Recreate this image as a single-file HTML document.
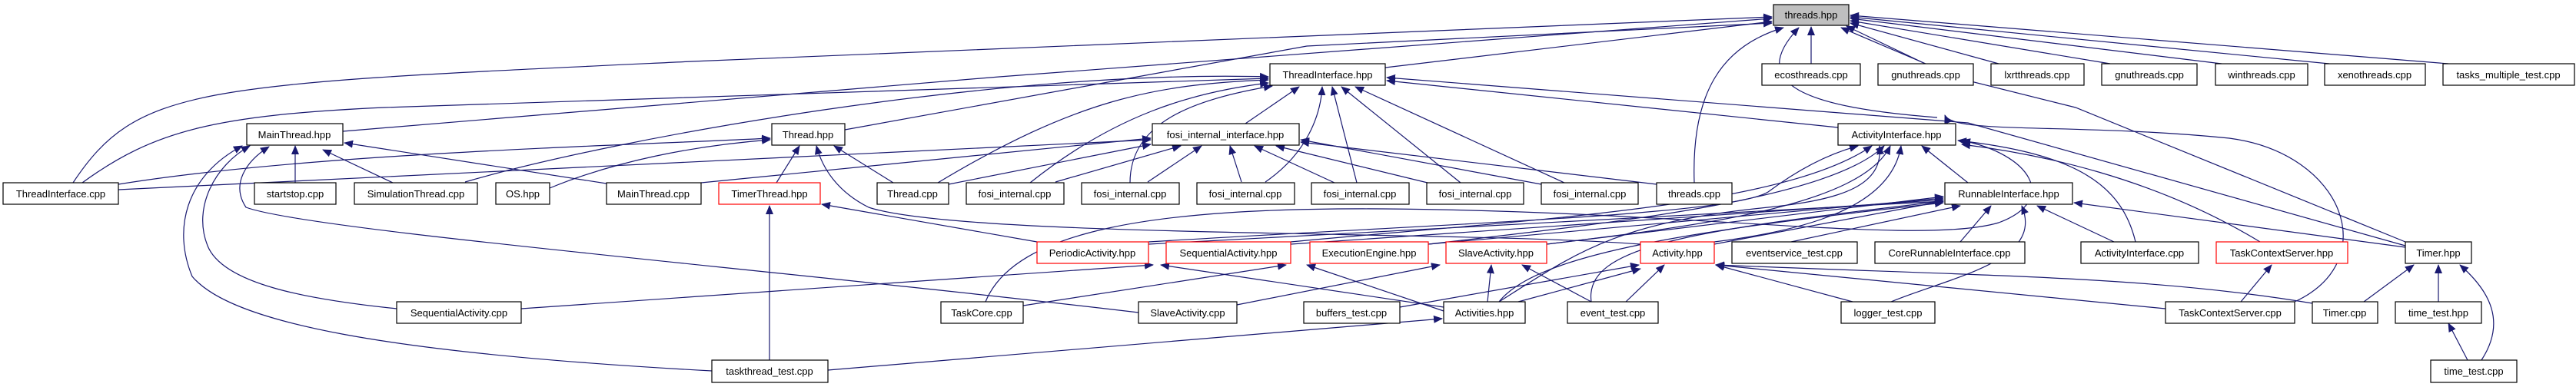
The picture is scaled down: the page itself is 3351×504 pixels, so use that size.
<!DOCTYPE html>
<html><head><meta charset="utf-8"><style>
html,body{margin:0;padding:0;background:#fff;}
svg{display:block;}
text{font-family:"Liberation Sans",sans-serif;font-size:13px;text-anchor:middle;fill:#000;}
.b{fill:#fff;stroke:#000;stroke-width:1.2;}
.r{fill:#fff;stroke:#ff0000;stroke-width:1.2;}
.g{fill:#bfbfbf;stroke:#000;stroke-width:1.2;}
.e{fill:none;stroke:#191970;stroke-width:1.2;marker-end:url(#a);}
</style></head><body>
<svg width="3351" height="504" viewBox="0 0 3351 504" xmlns="http://www.w3.org/2000/svg">
<defs><marker id="a" markerUnits="userSpaceOnUse" markerWidth="12" markerHeight="10" refX="11" refY="5" orient="auto"><path d="M0,0 L12,5 L0,10 z" fill="#191970"/></marker></defs>
<g>
<!-- to threads.hpp -->
<path class="e" d="M2356,83 L2356,35"/>
<path class="e" d="M2505,83 L2395,36"/>
<path class="e" d="M2600,83 L2407,30"/>
<path class="e" d="M2745,83 L2407,27"/>
<path class="e" d="M2890,83 L2407,24"/>
<path class="e" d="M3030,83 L2407,22"/>
<path class="e" d="M3185,83 L2407,20"/>
<path class="e" d="M1802,88 L2305,28"/>
<path class="e" d="M446,171 L1300,100 L2305,24"/>
<path class="e" d="M95,238 C180,110 260,110 900,80 L2305,22"/>
<path class="e" d="M1099,169 L1700,60 L2305,30"/>
<path class="e" d="M2204,238 C2200,120 2240,60 2320,36"/>
<path class="e" d="M2520,153 C2350,140 2270,110 2340,36"/>
<path class="e" d="M3129,315 L2700,140 L2540,100 L2402,34"/>
<path class="e" d="M2985,393 C3100,340 3050,200 2900,180 C2700,160 2540,175 2530,150"/>
<!-- to ThreadInterface.hpp -->
<path class="e" d="M107,238 C200,170 280,150 500,140 L1650,102"/>
<path class="e" d="M605,237 C800,180 1300,90 1650,100"/>
<path class="e" d="M1620,161 L1690,113"/>
<path class="e" d="M1220,238 C1400,130 1500,110 1650,104"/>
<path class="e" d="M1340,238 C1450,150 1550,120 1650,108"/>
<path class="e" d="M1470,238 C1470,160 1550,130 1655,112"/>
<path class="e" d="M1646,237 C1700,200 1718,150 1720,113"/>
<path class="e" d="M1765,238 L1733,113"/>
<path class="e" d="M1900,238 L1745,113"/>
<path class="e" d="M2035,238 L1763,113"/>
<path class="e" d="M2391,166 L1804,105"/>
<path class="e" d="M3129,320 L2560,160 L1804,101"/>
<!-- to fosi_internal_interface.hpp -->
<path class="e" d="M154,247 L1497,182"/>
<path class="e" d="M912,238 L1497,180"/>
<path class="e" d="M1234,240 L1497,188"/>
<path class="e" d="M1373,237 L1536,190"/>
<path class="e" d="M1493,237 L1563,190"/>
<path class="e" d="M1615,237 L1600,190"/>
<path class="e" d="M1736,238 L1632,190"/>
<path class="e" d="M1857,238 L1660,190"/>
<path class="e" d="M2005,240 L1692,182"/>
<path class="e" d="M2155,240 L1692,185"/>
<!-- Thread.hpp -->
<path class="e" d="M1010,238 L1040,190"/>
<path class="e" d="M1162,238 L1085,190"/>
<path class="e" d="M154,240 C400,200 800,190 1002,180"/>
<path class="e" d="M715,245 C800,210 900,190 1002,182"/>
<path class="e" d="M2134,318 C1900,300 1250,310 1130,270 C1090,250 1070,220 1062,190"/>
<!-- MainThread.hpp -->
<path class="e" d="M384,238 L384,190"/>
<path class="e" d="M511,238 L420,195"/>
<path class="e" d="M789,239 L448,186"/>
<path class="e" d="M516,402 C400,390 290,370 270,320 C250,270 280,215 325,190"/>
<path class="e" d="M926,483 C500,460 300,420 250,360 C225,300 240,230 315,190"/>
<path class="e" d="M1481,407 C1000,350 400,300 320,270 C300,240 320,210 350,191"/>
<!-- TimerThread.hpp -->
<path class="e" d="M1001,469 L1001,268"/>
<path class="e" d="M1349,315 L1069,266"/>
<!-- ActivityInterface.hpp -->
<path class="e" d="M2560,238 L2500,190"/>
<path class="e" d="M2778,315 C2760,240 2700,200 2547,183"/>
<path class="e" d="M2940,315 C2800,230 2650,200 2552,188"/>
<path class="e" d="M2230,315 C2350,300 2460,270 2473,190"/>
<path class="e" d="M2012,318 C2200,295 2420,270 2459,190"/>
<path class="e" d="M1858,318 C2100,290 2380,260 2451,190"/>
<path class="e" d="M1679,315 C2000,285 2320,270 2435,190"/>
<path class="e" d="M1494,315 C1900,290 2250,280 2300,250 C2340,220 2380,200 2417,190"/>
<path class="e" d="M1282,393 C1320,300 1500,270 1800,272 C2200,275 2500,320 2600,290 C2680,260 2640,200 2552,183"/>
<path class="e" d="M1950,393 C2050,330 2100,290 2300,270 C2400,260 2450,240 2445,190"/>
<!-- RunnableInterface.hpp -->
<path class="e" d="M2550,315 L2590,268"/>
<path class="e" d="M2330,315 L2550,268"/>
<path class="e" d="M2750,315 L2650,268"/>
<path class="e" d="M3129,322 L2698,264"/>
<path class="e" d="M2460,393 C2540,360 2660,340 2630,268"/>
<path class="e" d="M1494,318 L2528,262"/>
<path class="e" d="M1679,318 L2528,260"/>
<path class="e" d="M1858,318 L2528,258"/>
<path class="e" d="M2012,318 L2528,256"/>
<path class="e" d="M2230,318 L2528,262"/>
<path class="e" d="M2070,393 C2060,320 2200,300 2528,262"/>
<path class="e" d="M1950,393 C2000,330 2200,300 2528,264"/>
<!-- PeriodicActivity / Sequential / Exec / Slave -->
<path class="e" d="M678,402 L1500,345"/>
<path class="e" d="M1878,400 L1510,345"/>
<path class="e" d="M1331,398 L1673,345"/>
<path class="e" d="M1878,405 L1700,345"/>
<path class="e" d="M1609,397 L1873,345"/>
<path class="e" d="M1935,393 L1940,345"/>
<path class="e" d="M2070,393 L1980,345"/>
<path class="e" d="M1821,400 L2132,345"/>
<path class="e" d="M1975,393 L2134,350"/>
<path class="e" d="M2115,393 L2165,345"/>
<path class="e" d="M2410,393 L2232,345"/>
<path class="e" d="M2817,402 L2232,345"/>
<path class="e" d="M3008,395 C2800,360 2600,360 2232,345"/>
<path class="e" d="M1077,482 L1876,415"/>
<!-- TaskContextServer / Timer / time_test -->
<path class="e" d="M2915,393 L2955,345"/>
<path class="e" d="M3075,393 L3140,345"/>
<path class="e" d="M3172,393 L3172,345"/>
<path class="e" d="M3228,469 C3260,420 3240,380 3200,345"/>
<path class="e" d="M3210,469 L3185,421"/>
</g>
<g>
<rect class="g" x="2307" y="6" width="98" height="27"/><text x="2356" y="24">threads.hpp</text>
<rect class="b" x="1652" y="83" width="150" height="28"/><text x="1727" y="102">ThreadInterface.hpp</text>
<rect class="b" x="2292" y="83" width="128" height="28"/><text x="2356" y="102">ecosthreads.cpp</text>
<rect class="b" x="2443" y="83" width="124" height="28"/><text x="2505" y="102">gnuthreads.cpp</text>
<rect class="b" x="2590" y="83" width="121" height="28"/><text x="2650" y="102">lxrtthreads.cpp</text>
<rect class="b" x="2734" y="83" width="124" height="28"/><text x="2796" y="102">gnuthreads.cpp</text>
<rect class="b" x="2882" y="83" width="120" height="28"/><text x="2942" y="102">winthreads.cpp</text>
<rect class="b" x="3024" y="83" width="131" height="28"/><text x="3089" y="102">xenothreads.cpp</text>
<rect class="b" x="3178" y="83" width="171" height="28"/><text x="3263" y="102">tasks_multiple_test.cpp</text>
<rect class="b" x="321" y="161" width="125" height="28"/><text x="383" y="180">MainThread.hpp</text>
<rect class="b" x="1004" y="161" width="95" height="28"/><text x="1051" y="180">Thread.hpp</text>
<rect class="b" x="1499" y="161" width="191" height="28"/><text x="1594" y="180">fosi_internal_interface.hpp</text>
<rect class="b" x="2391" y="161" width="153" height="28"/><text x="2467" y="180">ActivityInterface.hpp</text>
<rect class="b" x="4" y="238" width="150" height="28"/><text x="79" y="257">ThreadInterface.cpp</text>
<rect class="b" x="331" y="238" width="106" height="28"/><text x="384" y="257">startstop.cpp</text>
<rect class="b" x="461" y="238" width="160" height="28"/><text x="541" y="257">SimulationThread.cpp</text>
<rect class="b" x="645" y="238" width="70" height="28"/><text x="680" y="257">OS.hpp</text>
<rect class="b" x="789" y="238" width="123" height="28"/><text x="850" y="257">MainThread.cpp</text>
<rect class="r" x="935" y="238" width="132" height="28"/><text x="1001" y="257">TimerThread.hpp</text>
<rect class="b" x="1141" y="238" width="93" height="28"/><text x="1187" y="257">Thread.cpp</text>
<rect class="b" x="1257" y="238" width="127" height="28"/><text x="1320" y="257">fosi_internal.cpp</text>
<rect class="b" x="1407" y="238" width="127" height="28"/><text x="1470" y="257">fosi_internal.cpp</text>
<rect class="b" x="1557" y="238" width="127" height="28"/><text x="1620" y="257">fosi_internal.cpp</text>
<rect class="b" x="1706" y="238" width="127" height="28"/><text x="1769" y="257">fosi_internal.cpp</text>
<rect class="b" x="1856" y="238" width="126" height="28"/><text x="1919" y="257">fosi_internal.cpp</text>
<rect class="b" x="2005" y="238" width="126" height="28"/><text x="2068" y="257">fosi_internal.cpp</text>
<rect class="b" x="2155" y="238" width="98" height="28"/><text x="2204" y="257">threads.cpp</text>
<rect class="b" x="2530" y="238" width="166" height="28"/><text x="2613" y="257">RunnableInterface.hpp</text>
<rect class="r" x="1349" y="315" width="145" height="28"/><text x="1421" y="334">PeriodicActivity.hpp</text>
<rect class="r" x="1517" y="315" width="162" height="28"/><text x="1598" y="334">SequentialActivity.hpp</text>
<rect class="r" x="1704" y="315" width="154" height="28"/><text x="1781" y="334">ExecutionEngine.hpp</text>
<rect class="r" x="1881" y="315" width="131" height="28"/><text x="1946" y="334">SlaveActivity.hpp</text>
<rect class="r" x="2134" y="315" width="96" height="28"/><text x="2182" y="334">Activity.hpp</text>
<rect class="b" x="2253" y="315" width="163" height="28"/><text x="2334" y="334">eventservice_test.cpp</text>
<rect class="b" x="2439" y="315" width="195" height="28"/><text x="2536" y="334">CoreRunnableInterface.cpp</text>
<rect class="b" x="2707" y="315" width="153" height="28"/><text x="2783" y="334">ActivityInterface.cpp</text>
<rect class="r" x="2883" y="315" width="171" height="28"/><text x="2968" y="334">TaskContextServer.hpp</text>
<rect class="b" x="3129" y="315" width="86" height="28"/><text x="3172" y="334">Timer.hpp</text>
<rect class="b" x="516" y="393" width="162" height="28"/><text x="597" y="412">SequentialActivity.cpp</text>
<rect class="b" x="1224" y="393" width="107" height="28"/><text x="1277" y="412">TaskCore.cpp</text>
<rect class="b" x="1481" y="393" width="128" height="28"/><text x="1545" y="412">SlaveActivity.cpp</text>
<rect class="b" x="1696" y="393" width="125" height="28"/><text x="1758" y="412">buffers_test.cpp</text>
<rect class="b" x="1878" y="393" width="106" height="28"/><text x="1931" y="412">Activities.hpp</text>
<rect class="b" x="2039" y="393" width="118" height="28"/><text x="2098" y="412">event_test.cpp</text>
<rect class="b" x="2395" y="393" width="122" height="28"/><text x="2456" y="412">logger_test.cpp</text>
<rect class="b" x="2817" y="393" width="168" height="28"/><text x="2901" y="412">TaskContextServer.cpp</text>
<rect class="b" x="3008" y="393" width="85" height="28"/><text x="3050" y="412">Timer.cpp</text>
<rect class="b" x="3116" y="393" width="112" height="28"/><text x="3172" y="412">time_test.hpp</text>
<rect class="b" x="926" y="469" width="151" height="29"/><text x="1001" y="488">taskthread_test.cpp</text>
<rect class="b" x="3162" y="469" width="112" height="29"/><text x="3218" y="488">time_test.cpp</text>
</g>
</svg>
</body></html>
